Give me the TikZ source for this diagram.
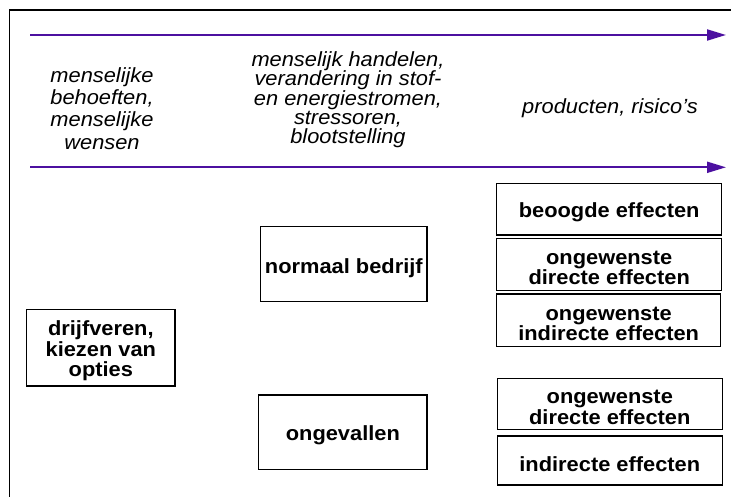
\documentclass[tikz,border=0pt]{standalone}
\usepackage{fontspec}
\setmainfont{Liberation Sans}[FakeStretch=1.065]
\usetikzlibrary{arrows.meta}
\definecolor{flowpurple}{RGB}{76,16,160}

\begin{document}
\begin{tikzpicture}[x=1pt,y=-1pt,
  effectbox/.style={draw=black, line width=1.5pt, fill=white, inner sep=0pt},
  boxtext/.style={align=center, inner sep=0pt,
    font=\fontsize{20.5}{20.5}\selectfont\bfseries},
  flow/.style={draw=flowpurple, line width=2pt, -{Triangle[length=19pt,width=11pt]}},
  note/.style={align=center, inner sep=0pt, font=\fontsize{20.5}{#1}\selectfont\itshape},
]
\useasboundingbox (0,0) rectangle (731,497);
\clip (0,0) rectangle (731,497);

% outer frame (open towards the right and the bottom)
\draw[line width=1.5pt] (9.5,520) -- (9.5,10) -- (760,10);

% the two flow arrows
\coordinate (topL) at (30,35);
\coordinate (topR) at (726,35);
\coordinate (botL) at (30,167.3);
\coordinate (botR) at (726,167.3);
\draw[flow] (topL) -- (topR);
\draw[flow] (botL) -- (botR);

% column headings
\node[note=22.3] (needs) at (102,108.5)
  {menselijke\\behoeften,\\menselijke\\wensen};
\node[note=19.3] (acts) at (348,100)
  {menselijk handelen,\\verandering in stof-\\en energiestromen,\\stressoren,\\blootstelling};
\node[note=19.3, anchor=base] (prods) at (610,113.5) {producten, risico's};

% boxes, each with its text slightly below the centre
\node[effectbox, minimum width=148.3pt, minimum height=76.7pt,
  label={[boxtext, yshift=-3.5pt]center:{drijfveren,\\kiezen van\\opties}}]
  (drive) at (100.85,347.65) {};
\node[effectbox, minimum width=166.3pt, minimum height=75pt,
  label={[boxtext, yshift=-3.5pt]center:{normaal bedrijf}}]
  (normal) at (343.85,264.2) {};
\node[effectbox, minimum width=168.3pt, minimum height=74.3pt,
  label={[boxtext, yshift=-3.5pt]center:{ongevallen}}]
  (accid) at (342.85,432.15) {};

\node[effectbox, minimum width=225pt, minimum height=51.7pt,
  label={[boxtext, yshift=-3.5pt]center:{beoogde effecten}}]
  (intended) at (609.2,209.15) {};
\node[effectbox, minimum width=225pt, minimum height=52.4pt,
  label={[boxtext, yshift=-3.5pt]center:{ongewenste\\directe effecten}}]
  (undirA) at (609.2,264.5) {};
\node[effectbox, minimum width=224pt, minimum height=52.7pt,
  label={[boxtext, yshift=-3.5pt]center:{ongewenste\\indirecte effecten}}]
  (unindA) at (608.7,320.35) {};
\node[effectbox, minimum width=225pt, minimum height=51pt,
  label={[boxtext, yshift=-3.5pt]center:{ongewenste\\directe effecten}}]
  (undirB) at (609.8,403.8) {};
\node[effectbox, minimum width=225pt, minimum height=49pt,
  label={[boxtext, yshift=-3.5pt]center:{indirecte effecten}}]
  (indirB) at (609.8,460.5) {};
\end{tikzpicture}
\end{document}
